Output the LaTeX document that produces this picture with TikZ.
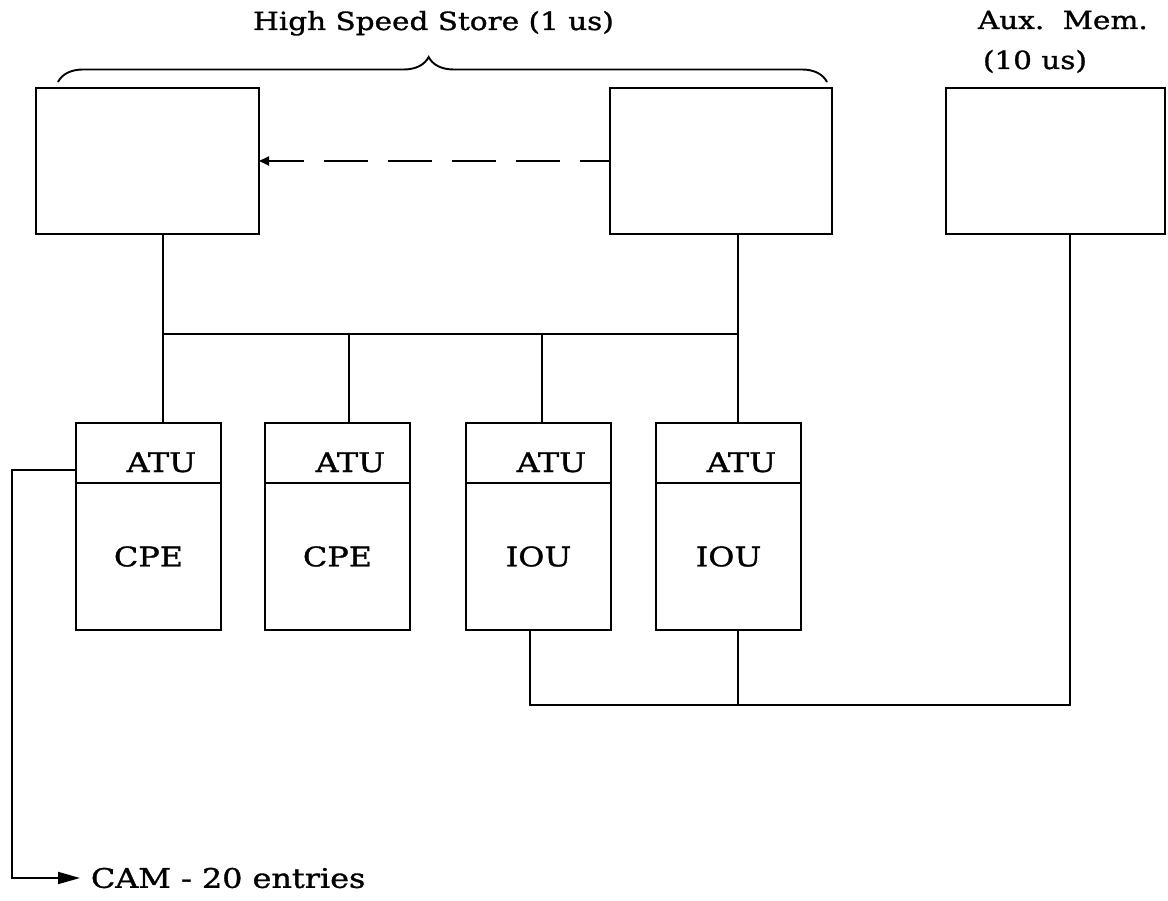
\documentclass[tikz,border=0pt]{standalone}
\usepackage{fontspec}
\setmainfont{DejaVu Serif}[FakeStretch=1.18, FakeBold=1.2]
\usepackage{tikz}
\usetikzlibrary{arrows.meta, positioning, decorations.pathreplacing}

\begin{document}
\begin{tikzpicture}[
    x=1pt, y=-1pt,
    line width=1.9pt,
    mem/.style={draw, line width=2.4pt, minimum height=146pt, inner sep=0pt, outer sep=0pt},
    atu/.style={draw, line width=2.2pt, minimum width=145pt, minimum height=60pt,
                text width=95pt, inner xsep=25pt, inner ysep=0pt, text height=40pt, text depth=2pt,
                align=right, outer sep=0pt, font=\fontsize{27}{30}\selectfont},
    body/.style={draw, line width=2.2pt, minimum width=145pt, minimum height=147pt,
                 inner sep=0pt, outer sep=0pt, font=\fontsize{27}{30}\selectfont},
    lbl/.style={inner sep=0pt, font=\fontsize{25}{30}\selectfont},
    arr/.style={-{Triangle[length=22pt, width=12pt]}},
    dasharr/.style={dash pattern=on 44pt off 20pt, dash phase=14pt, -{Triangle[length=10pt, width=9pt]}},
]
\useasboundingbox (0,0) rectangle (1168,901);

\node[mem, minimum width=223pt] (hs1) at (147.5,161) {};
\node[mem, minimum width=222pt] (hs2) at (721,161) {};
\node[mem, minimum width=219pt] (aux) at (1055.5,161) {};

\node[lbl, anchor=base] (hstitle) at (433.5,30) {High Speed Store (1 us)};
\node[lbl, anchor=base west] (auxname) at (977,29) {Aux.\hspace{6pt} Mem.};
\node[lbl, anchor=base west] (auxtime) at (982,69) {(10 us)};

\coordinate (bl) at (58,82);
\coordinate (br) at (827,82);
\draw[decorate, decoration={brace, amplitude=25pt, aspect=0.482}] (bl) -- (br);

\draw[dasharr] (hs2.west) -- (hs1.east);

\node[atu] (atu1) at (148.5,453) {ATU};
\node[body, below=0pt of atu1] (cpe1) {CPE};
\node[atu] (atu2) at (337.5,453) {ATU};
\node[body, below=0pt of atu2] (cpe2) {CPE};
\node[atu] (atu3) at (538.5,453) {ATU};
\node[body, below=0pt of atu3] (iou1) {IOU};
\node[atu] (atu4) at (728.5,453) {ATU};
\node[body, below=0pt of atu4] (iou2) {IOU};

\coordinate (j1) at (163,334);
\coordinate (j2) at (349,334);
\coordinate (j3) at (542,334);
\coordinate (j4) at (738,334);

\draw (hs1.south -| j1) -- (atu1.north -| j1);
\draw (j1) -- (j4);
\draw (j2) -- (atu2.north -| j2);
\draw (j3) -- (atu3.north -| j3);
\draw (hs2.south -| j4) -- (atu4.north -| j4);

\coordinate (k1) at (530,705);
\coordinate (k2) at (738,705);
\coordinate (k3) at (1070,705);

\draw (iou1.south -| k1) -- (k1) -- (k3) -- (aux.south -| k3);
\draw (iou2.south -| k2) -- (k2);

\coordinate (c1) at (12,470);
\coordinate (c2) at (12,878);
\node[lbl, anchor=west, inner xsep=10pt, font=\fontsize{27}{30}\selectfont] (cam) at (80,878) {CAM - 20 entries};
\draw[arr] (atu1.west |- c1) -- (c1) -- (c2) -- (cam.west);
\end{tikzpicture}
\end{document}
